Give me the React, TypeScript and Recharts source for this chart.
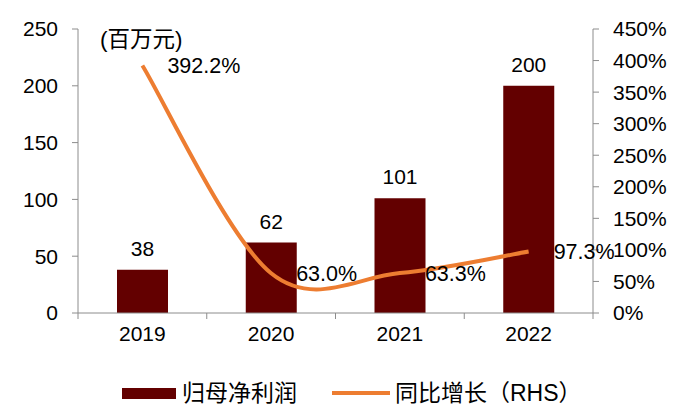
import React from "react";
import { ComposedChart, Bar, Line, XAxis, YAxis, LabelList } from "recharts";

const years = ["2019", "2020", "2021", "2022"];
const profit = [38, 62, 101, 200];
const growth = [392.2, 63.0, 63.3, 97.3];
const leftTicks = [0, 50, 100, 150, 200, 250];
const rightTicks = [0, 50, 100, 150, 200, 250, 300, 350, 400, 450];

const data = years.map((year, i) => ({ year, profit: profit[i], growth: growth[i] }));

const FONT = "'Liberation Sans', Arial, 'Noto Sans CJK SC', sans-serif";
const BAR = "#630000";
const LINE = "#ED7D31";
const AXIS = "#8c8c8c";

// Excel-style smoothed line (Catmull-Rom through the points)
function smoothCurve(context: any) {
  let pts: number[][] = [];
  return {
    areaStart() {},
    areaEnd() {},
    lineStart() {
      pts = [];
    },
    point(x: number, y: number) {
      pts.push([+x, +y]);
    },
    lineEnd() {
      if (!pts.length) return;
      context.moveTo(pts[0][0], pts[0][1]);
      for (let i = 0; i < pts.length - 1; i++) {
        const p0 = pts[i - 1] || pts[i];
        const p1 = pts[i];
        const p2 = pts[i + 1];
        const p3 = pts[i + 2] || p2;
        context.bezierCurveTo(
          p1[0] + (p2[0] - p0[0]) / 6,
          p1[1] + (p2[1] - p0[1]) / 6,
          p2[0] - (p3[0] - p1[0]) / 6,
          p2[1] - (p3[1] - p1[1]) / 6,
          p2[0],
          p2[1]
        );
      }
    },
  };
}

const HALF_BAND = 515 / 8;

const XTick = (props: any) => {
  const { x, y, payload, index } = props;
  return (
    <g>
      <line x1={x - HALF_BAND} x2={x - HALF_BAND} y1={y} y2={y + 6} stroke={AXIS} />
      {index === years.length - 1 && (
        <line x1={x + HALF_BAND} x2={x + HALF_BAND} y1={y} y2={y + 6} stroke={AXIS} />
      )}
      <text x={x} y={y + 28} textAnchor="middle" fontSize={21} fill="#000" fontFamily={FONT}>
        {payload.value}
      </text>
    </g>
  );
};

export default function App() {
  return (
    <div style={{ position: "absolute", left: 0, top: 0, width: 700, height: 415, background: "#fff", fontFamily: FONT }}>
      <ComposedChart width={700} height={415} data={data} margin={{ top: 29, right: 0, left: 0, bottom: 62 }}>
        <XAxis
          dataKey="year"
          xAxisId="x"
          height={40}
          stroke={AXIS}
          tickLine={false}
          tickSize={0}
          tickMargin={0}
          tick={<XTick />}
          interval={0}
        />
        <YAxis
          yAxisId="left"
          width={78}
          domain={[0, 250]}
          ticks={leftTicks}
          stroke={AXIS}
          tickSize={6}
          tickMargin={14}
          tick={{ fill: "#000", fontSize: 21, fontFamily: FONT }}
          interval={0}
        />
        <YAxis
          yAxisId="right"
          orientation="right"
          width={107}
          domain={[0, 450]}
          ticks={rightTicks}
          stroke={AXIS}
          tickSize={6}
          tickMargin={14}
          tickFormatter={(v: number) => `${v}%`}
          tick={{ fill: "#000", fontSize: 21, fontFamily: FONT }}
          interval={0}
        />
        <Bar dataKey="profit" xAxisId="x" yAxisId="left" fill={BAR} barSize={51} isAnimationActive={false}>
          <LabelList dataKey="profit" position="top" offset={14} fill="#000" fontSize={21} fontFamily={FONT} />
        </Bar>
        <Line
          dataKey="growth"
          xAxisId="x"
          yAxisId="right"
          type={smoothCurve as any}
          stroke={LINE}
          strokeWidth={4}
          dot={false}
          activeDot={false}
          isAnimationActive={false}
        >
          <LabelList
            dataKey="growth"
            position="right"
            offset={25}
            fill="#000"
            fontSize={21.5}
            fontFamily={FONT}
            formatter={(v: any) => `${Number(v).toFixed(1)}%`}
          />
        </Line>
      </ComposedChart>
      <div style={{ position: "absolute", left: 100, top: 21, fontSize: 22.5, color: "#000", whiteSpace: "nowrap" }}>
        (百万元)
      </div>
      <div
        style={{
          position: "absolute",
          left: 122,
          top: 378,
          display: "flex",
          alignItems: "center",
          fontSize: 23,
          color: "#000",
          whiteSpace: "nowrap",
          lineHeight: "30px",
        }}
      >
        <span style={{ display: "inline-block", width: 54, height: 11, background: BAR, marginRight: 6 }} />
        <span>归母净利润</span>
        <span style={{ display: "inline-block", width: 58, height: 4, background: LINE, marginLeft: 35, marginRight: 5 }} />
        <span>同比增长（RHS）</span>
      </div>
    </div>
  );
}
